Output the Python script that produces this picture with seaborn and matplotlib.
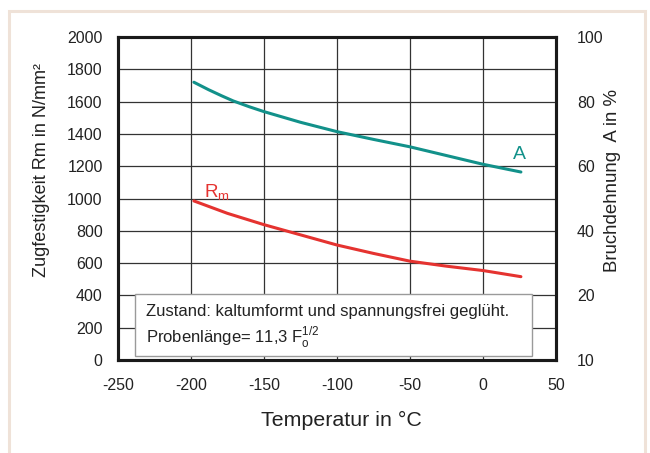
import matplotlib
matplotlib.use("Agg")
import matplotlib.pyplot as plt
import seaborn as sns
import pandas as pd
from matplotlib.patches import Rectangle

# Zugfestigkeit Rm und Bruchdehnung A ueber der Temperatur

# Rm curve (N/mm^2)
temp_rm = [-198, -175, -150, -125, -100, -75, -50, -25, 0, 26]
rm_vals = [985, 908, 838, 775, 712, 660, 612, 581, 554, 516]

# A curve (%)
temp_a = [-198, -188, -179, -171, -160, -150, -125, -100, -75, -50, -25, 0, 26]
a_vals = [86, 83.7, 81.8, 80.2, 78.4, 76.9, 73.6, 70.7, 68.3, 66, 63.3, 60.6, 58.2]

x_ticks = [-250, -200, -150, -100, -50, 0, 50]
left_ticks = [0, 200, 400, 600, 800, 1000, 1200, 1400, 1600, 1800, 2000]
right_ticks = [0, 20, 40, 60, 80, 100]
right_labels = ["10", "20", "40", "60", "80", "100"]

teal = "#12918a"
red = "#e53330"

df_rm = pd.DataFrame({"Temperatur": temp_rm, "Rm": rm_vals})
df_a = pd.DataFrame({"Temperatur": temp_a, "A": a_vals})

sns.set_style("white")
plt.rcParams["font.family"] = ["Liberation Sans", "DejaVu Sans"]
plt.rcParams["mathtext.fontset"] = "custom"
plt.rcParams["mathtext.rm"] = "Liberation Sans"
plt.rcParams["axes.unicode_minus"] = False

fig = plt.figure(figsize=(6.5, 4.53), dpi=100)
ax = fig.add_axes([0.1815, 0.2053, 0.6738, 0.7130])
ax2 = ax.twinx()

# peach frame around the picture
fig.patches.append(Rectangle((9 / 650, -0.05), 636 / 650, 1.05 - 11 / 453,
                             transform=fig.transFigure, fill=False,
                             edgecolor="#efe2d8", linewidth=2.2, zorder=0))

sns.lineplot(data=df_rm, x="Temperatur", y="Rm", ax=ax, color=red,
             linewidth=2.2, sort=False, estimator=None, zorder=3)
sns.lineplot(data=df_a, x="Temperatur", y="A", ax=ax2, color=teal,
             linewidth=2.2, sort=False, estimator=None, zorder=3)

ax.set_xlim(-250, 50)
ax.set_ylim(0, 2000)
ax2.set_ylim(0, 100)
ax.set_xticks(x_ticks)
ax.set_yticks(left_ticks)
ax2.set_yticks(right_ticks)
ax2.set_yticklabels(right_labels)

ax.grid(True, color="#333333", linewidth=0.9)
ax.set_axisbelow(True)
for a in (ax, ax2):
    for s in a.spines.values():
        s.set_linewidth(2.2)
        s.set_color("#1a1a1a")
ax.tick_params(axis="both", length=0, labelsize=11.5, colors="#222222")
ax.tick_params(axis="y", pad=11)
ax.tick_params(axis="x", pad=13)
ax2.tick_params(axis="y", length=0, labelsize=11.5, colors="#222222", pad=15)

ax.set_xlabel("Temperatur in °C", fontsize=15.4, color="#222222")
ax.set_ylabel("Zugfestigkeit Rm in N/mm²", fontsize=13, color="#222222")
ax2.set_ylabel("Bruchdehnung  A in %", fontsize=13.4, color="#222222")
for lab in (ax.xaxis.label, ax.yaxis.label, ax2.yaxis.label):
    lab.set_va("center")
    lab.set_ha("center")
ax.xaxis.set_label_coords(0.511, -0.186)
ax.yaxis.set_label_coords(-0.1735, 0.588)
ax2.yaxis.set_label_coords(1.130, 0.557)

# curve labels
ax2.text(25, 63.5, "A", color=teal, fontsize=14, ha="center", va="center")
ax.text(-191, 1005, r"R$_{\mathregular{m}}$", color=red, fontsize=13.5,
        ha="left", va="baseline")

# info box
ax2.add_patch(Rectangle((0.039, 0.012), 0.906, 0.192, transform=ax.transAxes,
                        facecolor="white", edgecolor="#9a9a9a", linewidth=1.0,
                        zorder=4))
ax2.text(0.064, 0.149, "Zustand: kaltumformt und spannungsfrei geglüht.",
         transform=ax.transAxes, fontsize=12, color="#222222", va="center",
         zorder=5)
ax2.text(0.064, 0.071, r"Probenlänge= 11,3 F$_{\mathregular{o}}^{\mathregular{1/2}}$",
         transform=ax.transAxes, fontsize=12, color="#222222", va="center",
         zorder=5)

fig.savefig("out.png", dpi=100)
